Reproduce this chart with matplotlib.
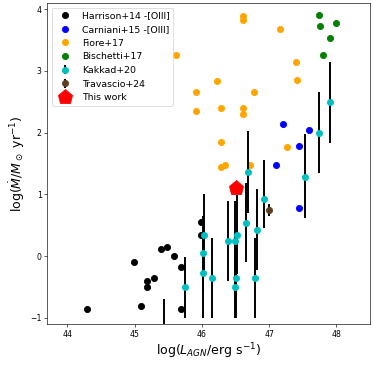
import numpy as np
import matplotlib
matplotlib.use('Agg')
import matplotlib.pyplot as plt

# Harrison+14 [OIII]
harrison_x = [44.29, 44.99, 45.10, 45.19, 45.19, 45.29, 45.39, 45.49, 45.59, 45.69, 45.69, 45.99, 45.99]
harrison_y = [-0.86, -0.10, -0.81, -0.40, -0.50, -0.36, 0.11, 0.15, 0.00, -0.18, -0.86, 0.55, 0.35]

# Carniani+15 [OIII]
carniani_x = [47.10, 47.21, 47.44, 47.60, 47.45]
carniani_y = [1.48, 2.14, 1.79, 2.05, 0.78]

# Fiore+17
fiore_x = [45.61, 46.61, 46.61, 47.16, 47.40, 47.42, 46.22, 45.92, 46.78,
           45.91, 46.29, 46.61, 46.61, 46.29, 47.27, 46.28, 46.34, 46.72]
fiore_y = [3.25, 3.89, 3.83, 3.67, 3.15, 2.85, 2.84, 2.66, 2.66,
           2.35, 2.40, 2.40, 2.30, 1.85, 1.76, 1.44, 1.48, 1.48]

# Bischetti+17
bischetti_x = [47.74, 47.76, 48.00, 47.91, 47.81]
bischetti_y = [3.90, 3.72, 3.77, 3.53, 3.26]

# Kakkad+20 (asymmetric errors)
kakkad_x = [45.44, 45.75, 46.03, 46.02, 46.02, 46.15, 46.39, 46.49, 46.53, 46.51,
            46.50, 46.66, 46.82, 46.79, 46.93, 46.69, 47.54, 47.74, 47.90]
kakkad_y = [-1.60, -0.50, 0.35, 0.05, -0.27, -0.35, 0.25, 0.25, 0.35, -0.35,
            -0.50, 0.54, 0.43, -0.35, 0.93, 1.36, 1.28, 2.00, 2.49]
kakkad_lo = [0.60, 0.50, 0.65, 0.60, 0.73, 0.65, 0.65, 0.65, 0.64, 0.65,
             0.50, 0.64, 0.65, 0.65, 0.47, 0.66, 0.67, 0.65, 0.65]
kakkad_hi = [0.90, 0.49, 0.65, 0.60, 0.60, 0.64, 0.65, 0.65, 0.64, 0.65,
             0.50, 0.64, 0.65, 0.65, 0.63, 0.66, 0.69, 0.65, 0.65]

# Travascio+24
travascio_x = [47.00]
travascio_y = [0.75]
travascio_err = [0.10]

# This work
this_x = [46.51]
this_y = [1.10]

fig = plt.figure(figsize=(374 / 56, 365 / 56), dpi=56)
ax = fig.add_axes([0.126, 0.112, 0.863, 0.880])

h1, = ax.plot(harrison_x, harrison_y, 'o', color='k', markersize=8, label='Harrison+14 -[OIII]')
h2, = ax.plot(carniani_x, carniani_y, 'o', color='b', markersize=8, label='Carniani+15 -[OIII]')
h3, = ax.plot(fiore_x, fiore_y, 'o', color='orange', markersize=8, label='Fiore+17')
h4, = ax.plot(bischetti_x, bischetti_y, 'o', color='g', markersize=8, label='Bischetti+17')
h5 = ax.errorbar(kakkad_x, kakkad_y, yerr=[kakkad_lo, kakkad_hi], fmt='o', color='c',
                 ecolor='k', elinewidth=2.5, markersize=8, label='Kakkad+20')
h6 = ax.errorbar(travascio_x, travascio_y, yerr=travascio_err, fmt='o', color='#5c3d1e',
                 ecolor='k', elinewidth=2.5, markersize=8, label='Travascio+24')
h7, = ax.plot(this_x, this_y, 'p', color='r', markersize=20, label='This work')

ax.set_xlim(43.7, 48.5)
ax.set_ylim(-1.1, 4.1)
ax.set_xticks([44, 45, 46, 47, 48])
ax.set_yticks([-1, 0, 1, 2, 3, 4])
ax.set_xlabel(r'log($L_{AGN}$/erg s$^{-1}$)', fontsize=16)
ax.set_ylabel(r'log($\dot{M}/M_\odot$ yr$^{-1}$)', fontsize=16)
ax.legend(handles=[h1, h2, h3, h4, h5, h6, h7], loc='upper left', fontsize=12)

fig.savefig('out.png', dpi=56)
